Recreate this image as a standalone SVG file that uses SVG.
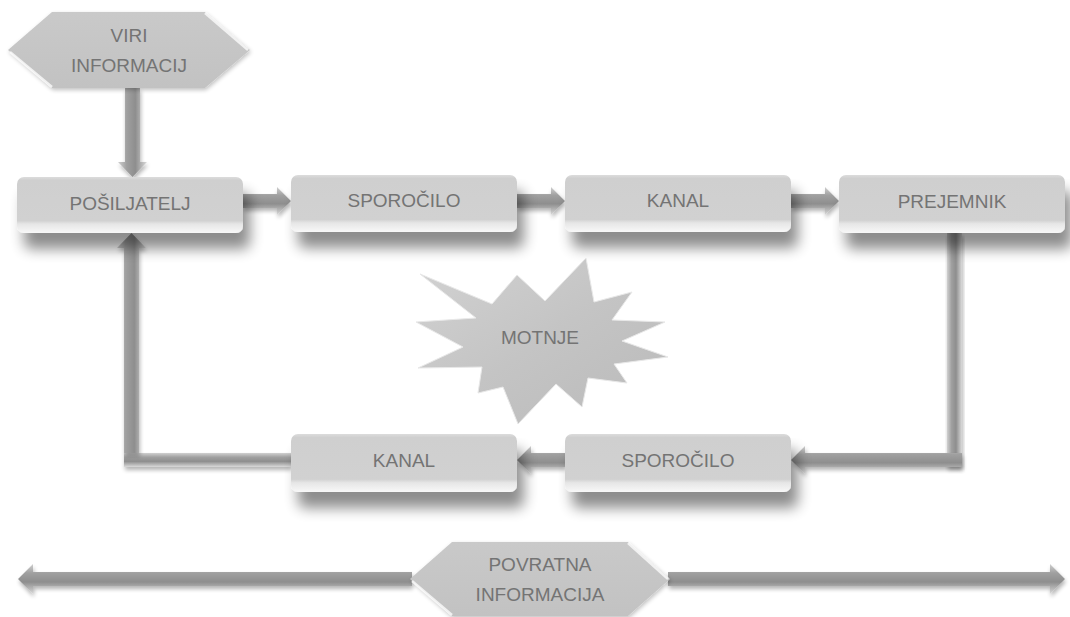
<svg xmlns="http://www.w3.org/2000/svg" width="1070" height="617" viewBox="0 0 1070 617">
<defs>
<style>
.lbl{font-family:"Liberation Sans","Open Sans",Arial,sans-serif;font-size:19px;fill:#747474;text-anchor:middle;dominant-baseline:central}
.box{fill:url(#boxg);filter:url(#sh)}
.hex{fill:url(#hexg);filter:url(#sh2)}
.bev{fill:none;stroke:#fff;stroke-opacity:0.75;stroke-width:2.5}
.h{fill:url(#hg);filter:url(#ash)}
.v{fill:url(#vg);filter:url(#ash)}
</style>
<linearGradient id="boxg" x1="0" y1="0" x2="0" y2="1">
<stop offset="0" stop-color="#dcdcdc"/>
<stop offset="0.06" stop-color="#cfcfcf"/>
<stop offset="0.78" stop-color="#d1d1d1"/>
<stop offset="0.84" stop-color="#e6e6e6"/>
<stop offset="1" stop-color="#f8f8f8"/>
</linearGradient>
<linearGradient id="hexg" x1="0" y1="0" x2="0" y2="1">
<stop offset="0" stop-color="#c9c9c9"/>
<stop offset="1" stop-color="#c2c2c2"/>
</linearGradient>
<linearGradient id="starg" x1="0" y1="0" x2="1" y2="1">
<stop offset="0" stop-color="#d2d2d2"/>
<stop offset="0.5" stop-color="#c4c4c4"/>
<stop offset="1" stop-color="#bababa"/>
</linearGradient>
<linearGradient id="hg" x1="0" y1="0" x2="0" y2="1">
<stop offset="0" stop-color="#d0d0d0"/>
<stop offset="0.3" stop-color="#a0a0a0"/>
<stop offset="0.6" stop-color="#8e8e8e"/>
<stop offset="0.85" stop-color="#bdbdbd"/>
<stop offset="1" stop-color="#dadada"/>
</linearGradient>
<linearGradient id="vg" x1="0" y1="0" x2="1" y2="0">
<stop offset="0" stop-color="#d0d0d0"/>
<stop offset="0.3" stop-color="#a0a0a0"/>
<stop offset="0.6" stop-color="#8e8e8e"/>
<stop offset="0.85" stop-color="#bdbdbd"/>
<stop offset="1" stop-color="#dadada"/>
</linearGradient>
<filter id="sh" x="-10%" y="-20%" width="125%" height="200%">
<feGaussianBlur in="SourceAlpha" stdDeviation="7"/>
<feOffset dx="7" dy="16" result="b"/>
<feComponentTransfer><feFuncA type="linear" slope="0.45"/></feComponentTransfer>
<feMerge><feMergeNode/><feMergeNode in="SourceGraphic"/></feMerge>
</filter>
<filter id="sh2" x="-10%" y="-20%" width="125%" height="160%">
<feGaussianBlur in="SourceAlpha" stdDeviation="2"/>
<feOffset dx="1" dy="2" result="b"/>
<feComponentTransfer><feFuncA type="linear" slope="0.25"/></feComponentTransfer>
<feMerge><feMergeNode/><feMergeNode in="SourceGraphic"/></feMerge>
</filter>
<filter id="ash" x="-20%" y="-40%" width="140%" height="190%">
<feGaussianBlur in="SourceAlpha" stdDeviation="2"/>
<feOffset dx="1" dy="3" result="b"/>
<feComponentTransfer><feFuncA type="linear" slope="0.3"/></feComponentTransfer>
<feMerge><feMergeNode/><feMergeNode in="SourceGraphic"/></feMerge>
</filter>
</defs>
<rect width="1070" height="617" fill="#fff"/>

<g id="connectors">
<polygon class="v" points="125,88 140,88 140,162 147,162 132.5,177 118,162 125,162"/>
<polygon class="h" points="243,194 277,194 277,187 291,201 277,215 277,208 243,208"/>
<polygon class="h" points="517,194 551,194 551,187 565,201 551,215 551,208 517,208"/>
<polygon class="h" points="791,194 825,194 825,187 839,201 825,215 825,208 791,208"/>
<rect class="v" x="947" y="233" width="15" height="234"/>
<polygon class="h" points="962,453 962,467 805,467 805,474 791,460 805,446 805,453"/>
<polygon class="h" points="565,453 565,467 531,467 531,474 517,460 531,446 531,453"/>
<polygon class="h" points="291,453 291,467 124,467 124,453"/>
<polygon class="v" points="124,467 124,248 117,248 131.5,233 146,248 139,248 139,453 124,453"/>
<polygon class="h" points="412,572 412,586 33,586 33,594 18,579 33,564 33,572"/>
<polygon class="h" points="668,572 1050,572 1050,564 1065,579 1050,594 1050,586 668,586"/>
</g>

<g id="viri">
<polygon class="hex" points="8,50 52,12 205,12 250,50 205,88 52,88"/>
<polyline class="bev" points="205,13 248,50"/>
<polyline class="bev" points="10,52 52,87"/>
<text class="lbl" x="129" y="35">VIRI</text>
<text class="lbl" x="129" y="65">INFORMACIJ</text>
</g>

<g id="posiljatelj">
<rect class="box" x="17" y="177" width="226" height="56" rx="7"/>
<text class="lbl" x="130" y="203">POŠILJATELJ</text>
</g>
<g id="sporocilo1">
<rect class="box" x="291" y="175" width="226" height="57" rx="7"/>
<text class="lbl" x="404" y="200">SPOROČILO</text>
</g>
<g id="kanal1">
<rect class="box" x="565" y="175" width="226" height="57" rx="7"/>
<text class="lbl" x="678" y="200">KANAL</text>
</g>
<g id="prejemnik">
<rect class="box" x="839" y="175" width="226" height="58" rx="7"/>
<text class="lbl" x="952" y="201">PREJEMNIK</text>
</g>

<g id="motnje">
<polygon fill="url(#starg)" stroke="#e8e8e8" stroke-width="1" points="420,274 492,304 517,275 545,301 586,258 594,302 632,292 612,320 665,322 622,341 668,357 614,364 627,383 588,378 582,407 556,384 518,424 503,387 478,393 482,367 418,368 463,347 416,322 476,318"/>
<text class="lbl" x="540" y="337">MOTNJE</text>
</g>

<g id="kanal2">
<rect class="box" x="291" y="434" width="226" height="58" rx="7"/>
<text class="lbl" x="404" y="460">KANAL</text>
</g>
<g id="sporocilo2">
<rect class="box" x="565" y="434" width="226" height="58" rx="7"/>
<text class="lbl" x="678" y="460">SPOROČILO</text>
</g>

<g id="povratna">
<polygon class="hex" points="410,579 452,542 628,542 670,579 628,616 452,616"/>
<polyline class="bev" points="628,543 668,579"/>
<polyline class="bev" points="412,581 452,615"/>
<text class="lbl" x="540" y="564">POVRATNA</text>
<text class="lbl" x="540" y="594">INFORMACIJA</text>
</g>
</svg>
